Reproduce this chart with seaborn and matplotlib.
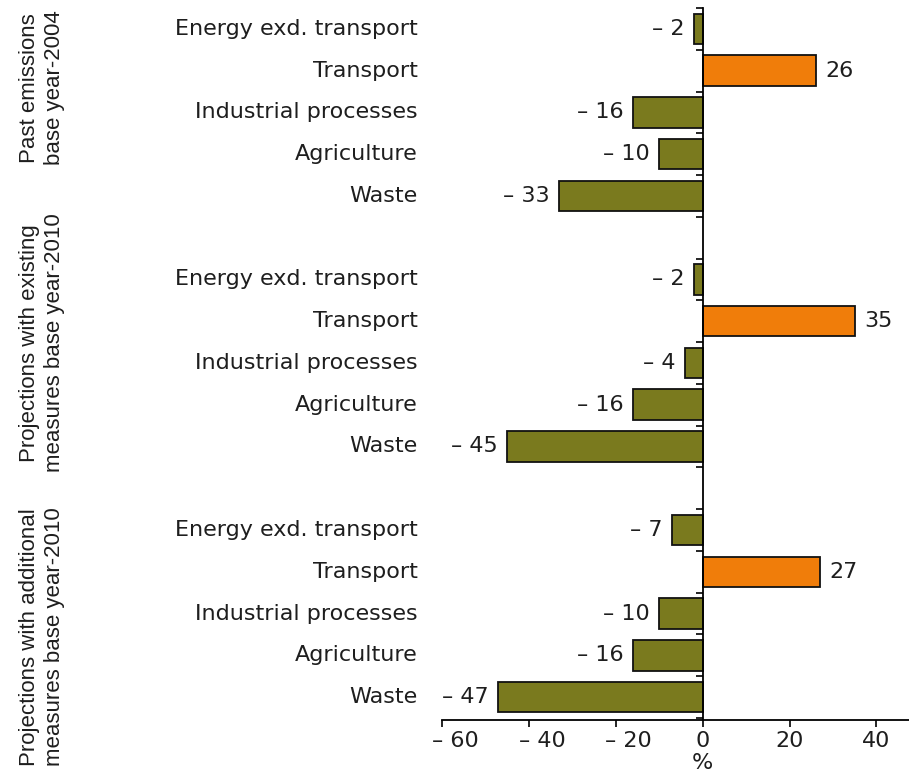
import pandas as pd
import matplotlib.pyplot as plt
import seaborn as sns
import numpy as np
from matplotlib.transforms import ScaledTranslation

sns.set_theme(style="white")
plt.rcParams['font.family'] = ['DejaVu Sans']

# Data (% change)
groups = ["Past emissions\nbase year-2004",
          "Projections with existing\nmeasures base year-2010",
          "Projections with additional\nmeasures base year-2010"]
sectors = ["Energy exd. transport", "Transport", "Industrial processes", "Agriculture", "Waste"]
past_2004 = [-2, 26, -16, -10, -33]
existing_2010 = [-2, 35, -4, -16, -45]
additional_2010 = [-7, 27, -10, -16, -47]
xticks = [-60, -40, -20, 0, 20, 40]

olive = "#7a7a1e"
orange = "#f07d0a"
text_col = "#1e1e1e"
fs = 16

# one row per bar, with an empty row between the groups
rows = []
for g, vals in enumerate([past_2004, existing_2010, additional_2010]):
    for i, (s, v) in enumerate(zip(sectors, vals)):
        rows.append({"group": groups[g], "sector": s, "value": v,
                     "pos": g * (len(sectors) + 1) + i,
                     "kind": "transport" if s == "Transport" else "other"})
df = pd.DataFrame(rows)

fig, ax = plt.subplots(figsize=(9.09, 7.74), dpi=100)
fig.subplots_adjust(left=442 / 909, right=1.0, bottom=1 - 720 / 774, top=1 - 8 / 774)

sns.barplot(data=df, x="value", y="pos", hue="kind",
            palette={"other": olive, "transport": orange},
            orient="h", native_scale=True, dodge=False, width=0.73,
            saturation=1, edgecolor="#111111", linewidth=1.3,
            errorbar=None, legend=False, ax=ax)

ax.set_xlim(-60, 47.5)
ax.set_ylim(df["pos"].max() + 0.55, -0.5)

# spines: vertical axis through zero
for side in ["top", "right"]:
    ax.spines[side].set_visible(False)
ax.spines["left"].set_position(("data", 0))
for side in ["left", "bottom"]:
    ax.spines[side].set_color("black")
    ax.spines[side].set_linewidth(1.3)

ax.set_yticks([])
ax.set_yticks(np.arange(-0.5, df["pos"].max() + 1, 1), minor=True)
ax.tick_params(axis="y", which="minor", left=True, direction="out",
               length=5, width=1.2, color="black")
ax.set_ylabel("")

ax.set_xticks(xticks)
ax.set_xticklabels([f"\u2013 {abs(t)}" if t < 0 else f"{t}" for t in xticks])
ax.tick_params(axis="x", bottom=True, direction="out", length=5, width=1.2,
               color="black", labelsize=fs, labelcolor=text_col, pad=3)
# negative tick labels sit a little to the right of their ticks
shift = ScaledTranslation(0.13, 0, fig.dpi_scale_trans)
for t, lbl in zip(xticks, ax.get_xticklabels()):
    if t < 0:
        lbl.set_transform(lbl.get_transform() + shift)
ax.set_xlabel("%", fontsize=fs, color=text_col)
xmin, xmax = ax.get_xlim()
ax.xaxis.set_label_coords((0 - xmin) / (xmax - xmin), -0.046)

# sector names to the left of the plot area
for _, r in df.iterrows():
    ax.annotate(r["sector"], xy=(0, r["pos"]), xycoords=("axes fraction", "data"),
                xytext=(-24, 0), textcoords="offset pixels",
                ha="right", va="center", fontsize=fs, color=text_col)

# value labels at bar ends
for cont in ax.containers:
    ax.bar_label(cont, fmt=lambda v: f"\u2013 {abs(v):g}" if v < 0 else f"{v:g}",
                 padding=7, fontsize=fs, color=text_col)

# group titles, rotated on the far left
for label, ypx in zip(groups, [88, 343, 637]):
    fig.text(0.046, 1 - ypx / 774, label, rotation=90, ha="center", va="center",
             multialignment="center", fontsize=16, linespacing=1.25, color=text_col,
             family=["Liberation Sans", "DejaVu Sans"])

plt.savefig("out.png", dpi=100)
